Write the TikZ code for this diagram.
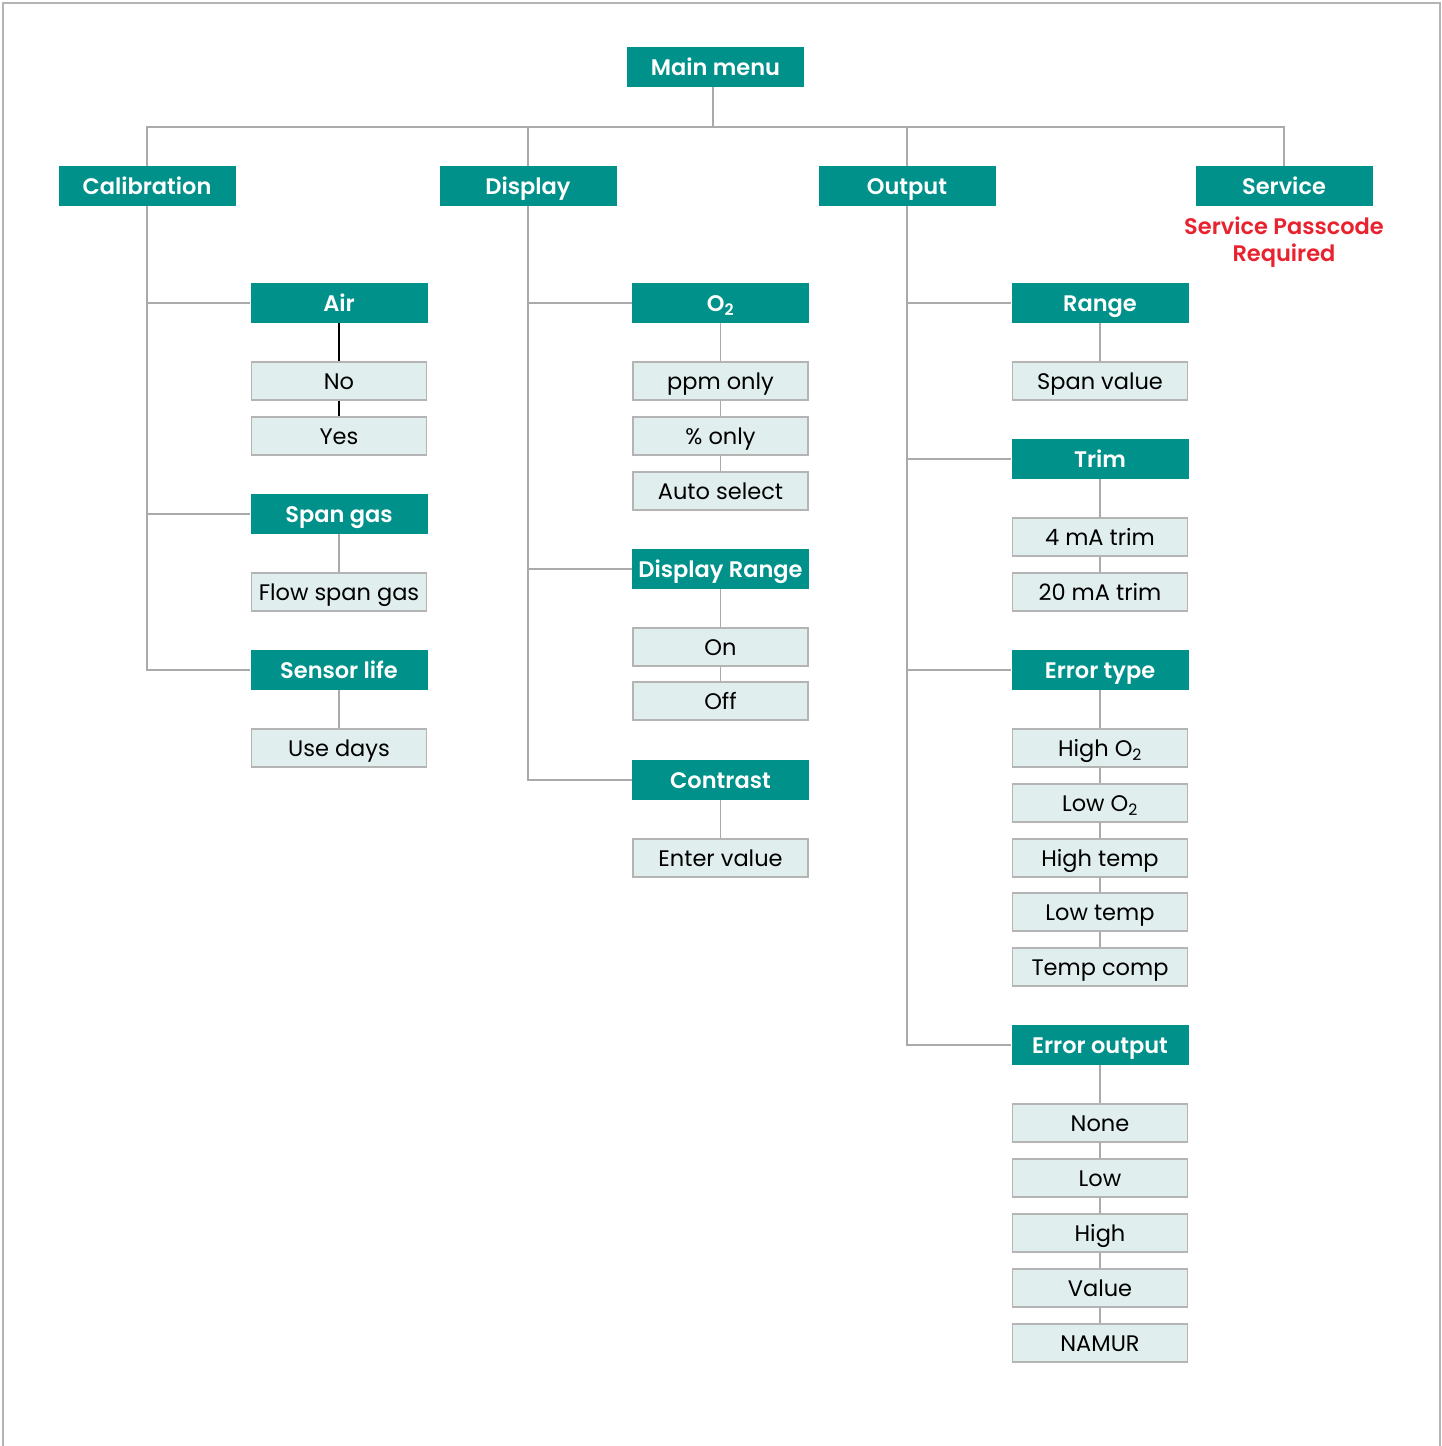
\documentclass[tikz,border=0pt]{standalone}
\usepackage{fontspec}
\setmainfont{Poppins}[BoldFont={Poppins SemiBold}]
\usepackage{tikz}
\usetikzlibrary{positioning, calc}
\definecolor{teal}{RGB}{0,145,138}
\definecolor{leaffill}{RGB}{224,238,238}
\definecolor{leafline}{RGB}{180,180,180}
\definecolor{wire}{RGB}{170,170,170}
\definecolor{alertred}{RGB}{232,35,47}
\tikzset{
  menu/.style  = {rectangle, fill=teal, text=white, minimum width=177pt,
                  minimum height=40pt, inner sep=0pt,
                  text height=17pt, text depth=1pt,
                  font=\fontsize{22.5}{27}\selectfont\bfseries},
  leaf/.style  = {rectangle, draw=leafline, line width=1.6pt, fill=leaffill,
                  minimum width=175pt, minimum height=38pt, inner sep=0pt,
                  text height=17pt, text depth=1pt,
                  font=\fontsize{22.5}{27}\selectfont},
  wire/.style  = {draw=wire, line width=1.3pt},
  darkwire/.style = {draw=black, line width=1.2pt},
}

\begin{document}
\begin{tikzpicture}[x=1pt, y=-1pt]
  \useasboundingbox (0,0) rectangle (1442,1446);
  \draw[leafline, line width=2pt] (3,1450) -- (3,3) -- (1440,3) -- (1440,1450);

  % top level
  \node[menu] (main) at (715.5, 67) {Main menu};
  \coordinate (bus) at (713, 127);
  \node[menu] (cal) at (147, 186)  {Calibration};
  \node[menu] (dsp) at (528, 186)  {Display};
  \node[menu] (out) at (907, 186)  {Output};
  \node[menu] (srv) at (1284, 186) {Service};
  \node[text=alertred, align=center, font=\fontsize{22.5}{27}\selectfont\bfseries]
    (pass) at (1284, 242) {Service Passcode\\Required};

  \draw[wire] (main.south -| bus) -- (bus);
  \draw[wire] (cal.north) -- (cal.north |- bus) -- (srv.north |- bus) -- (srv.north);
  \draw[wire] (dsp.north) -- (dsp.north |- bus);
  \draw[wire] (out.north) -- (out.north |- bus);

  % calibration
  \node[menu] (air)     at (339, 303) {Air};
  \node[leaf] (no)      at (339, 381) {No};
  \node[leaf] (yes)     at (339, 436) {Yes};
  \node[menu] (spangas) at (339, 514) {Span gas};
  \node[leaf] (flow)    at (339, 592) {Flow span gas};
  \node[menu] (sensor)  at (339, 670) {Sensor life};
  \node[leaf] (days)    at (339, 748) {Use days};

  \draw[wire] (cal) |- (air) (cal) |- (spangas) (cal) |- (sensor);
  \draw[darkwire] (air) -- (no) -- (yes);
  \draw[wire] (spangas) -- (flow);
  \draw[wire] (sensor) -- (days);

  % display
  \node[menu] (otwo)    at (720.5, 303) {O\textsubscript{2}};
  \node[leaf] (ppm)     at (720.5, 381) {ppm only};
  \node[leaf] (pct)     at (720.5, 436) {\% only};
  \node[leaf] (auto)    at (720.5, 491) {Auto select};
  \node[menu] (drange)  at (720.5, 569) {Display Range};
  \node[leaf] (on)      at (720.5, 647) {On};
  \node[leaf] (off)     at (720.5, 701) {Off};
  \node[menu] (contr)   at (720.5, 780) {Contrast};
  \node[leaf] (enter)   at (720.5, 858) {Enter value};

  \draw[wire] (dsp) |- (otwo) (dsp) |- (drange) (dsp) |- (contr);
  \draw[wire] (otwo) -- (ppm) -- (pct) -- (auto);
  \draw[wire] (drange) -- (on) -- (off);
  \draw[wire] (contr) -- (enter);

  % output
  \node[menu] (range)   at (1100, 303)  {Range};
  \node[leaf] (span)    at (1100, 381)  {Span value};
  \node[menu] (trim)    at (1100, 459)  {Trim};
  \node[leaf] (four)    at (1100, 537)  {4 mA trim};
  \node[leaf] (twenty)  at (1100, 592)  {20 mA trim};
  \node[menu] (errtype) at (1100, 670)  {Error type};
  \node[leaf] (higho)   at (1100, 748)  {High O\textsubscript{2}};
  \node[leaf] (lowo)    at (1100, 803)  {Low O\textsubscript{2}};
  \node[leaf] (hight)   at (1100, 858)  {High temp};
  \node[leaf] (lowt)    at (1100, 912)  {Low temp};
  \node[leaf] (comp)    at (1100, 967)  {Temp comp};
  \node[menu] (errout)  at (1100, 1045) {Error output};
  \node[leaf] (none)    at (1100, 1123) {None};
  \node[leaf] (low)     at (1100, 1178) {Low};
  \node[leaf] (high)    at (1100, 1233) {High};
  \node[leaf] (value)   at (1100, 1288) {Value};
  \node[leaf] (namur)   at (1100, 1343) {NAMUR};

  \draw[wire] (out) |- (range) (out) |- (trim) (out) |- (errtype) (out) |- (errout);
  \draw[wire] (range) -- (span);
  \draw[wire] (trim) -- (four) -- (twenty);
  \draw[wire] (errtype) -- (higho) -- (lowo) -- (hight) -- (lowt) -- (comp);
  \draw[wire] (errout) -- (none) -- (low) -- (high) -- (value) -- (namur);
\end{tikzpicture}
\end{document}
